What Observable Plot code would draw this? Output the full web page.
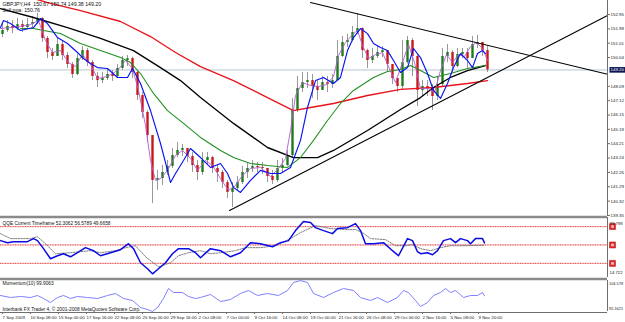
<!DOCTYPE html>
<html><head><meta charset="utf-8">
<script src="https://cdn.jsdelivr.net/npm/d3@7"></script>
<script src="https://cdn.jsdelivr.net/npm/@observablehq/plot@0.6"></script>
<style>
body{margin:0;background:#fff;}
#chart{width:625px;height:322px;position:relative;overflow:hidden;background:#fff;}
#chart svg{display:block;overflow:visible;}
</style></head><body><div id="chart"></div>
<script>
// ---------- data ----------
const titleLines = ["GBPJPY,H4  150.67 150.74 149.38 149.20", "Sell ppa: 150.76"];
const lastPrice = 149.20;

const open = [151.60,151.87,152.14,152.00,152.27,152.07,152.27,152.41,152.68,151.33,
150.38,150.11,150.92,150.18,149.57,148.89,149.97,150.51,149.70,148.76,
148.48,148.62,148.89,148.76,149.30,149.84,149.97,149.03,147.47,146.32,
144.76,141.72,141.85,142.26,142.67,143.41,143.75,143.88,143.34,142.73,
142.26,143.07,143.27,142.53,142.26,141.58,140.91,141.18,141.58,142.26,
142.53,142.67,142.60,142.53,141.99,141.72,142.53,142.73,143.41,146.45,
147.94,148.35,148.48,148.08,147.81,148.35,148.21,148.48,150.11,151.06,
151.19,151.73,152.00,150.51,149.84,150.11,150.38,150.51,149.57,148.62,
148.08,149.70,151.19,150.11,147.81,148.08,147.94,147.40,148.21,150.11,
150.38,149.43,150.24,150.38,149.97,150.92,151.06,150.51];
const close = [151.87,152.14,152.00,152.27,152.07,152.27,152.41,152.68,151.33,150.38,
150.11,150.92,150.18,149.57,148.89,149.97,150.51,149.70,148.76,148.48,
148.62,148.89,148.76,149.30,149.84,149.97,149.03,147.47,146.32,144.76,
141.72,141.85,142.26,142.67,143.41,143.75,143.88,143.34,142.73,142.26,
143.07,143.27,142.53,142.26,141.58,140.91,141.18,141.58,142.26,142.53,
142.67,142.60,142.53,141.99,141.72,142.53,142.73,143.41,146.45,147.94,
148.35,148.48,148.08,147.81,148.35,148.21,148.48,150.11,151.06,151.19,
151.73,152.00,150.51,149.84,150.11,150.38,150.51,149.57,148.62,148.08,
149.70,151.19,150.11,147.81,148.08,147.94,147.40,148.21,150.11,150.38,
149.43,150.24,150.38,149.97,150.92,151.06,150.51,149.20];
const high = [152.41,152.54,152.54,152.68,152.54,152.68,152.81,153.02,152.75,151.46,
150.65,151.33,151.19,150.38,149.70,150.24,150.78,150.65,149.84,149.03,
149.03,149.23,149.16,149.57,150.11,150.18,150.05,149.16,147.67,146.45,
144.76,142.40,142.73,143.07,143.88,144.29,144.15,143.88,143.61,143.07,
143.61,143.61,143.35,142.80,142.40,141.72,141.58,141.99,142.67,142.87,
143.07,142.94,142.94,142.53,142.40,143.07,143.21,143.75,147.27,148.76,
149.03,149.03,148.89,148.48,148.76,148.76,148.89,151.19,151.46,151.60,
152.14,153.02,152.05,150.60,150.65,150.85,150.78,150.51,149.57,148.62,
151.19,151.46,151.33,150.24,148.48,148.48,148.21,148.76,150.65,150.92,
150.51,150.65,150.65,150.65,151.46,151.53,151.06,150.78];
const low = [151.39,151.73,151.66,151.87,151.73,151.94,152.07,152.27,151.06,149.97,
149.84,150.11,149.84,149.30,148.62,148.80,149.84,149.43,148.48,148.01,
148.28,148.48,148.42,148.62,149.16,149.43,148.62,147.13,145.91,144.29,
140.16,141.04,141.38,142.06,142.53,143.27,143.34,142.94,142.26,141.72,
142.06,142.73,142.19,141.58,141.18,140.50,139.89,141.04,141.45,141.85,
142.26,142.26,142.12,141.58,141.45,141.58,142.26,142.67,143.27,146.32,
147.67,147.94,147.27,147.13,147.81,147.67,147.94,148.48,150.05,150.72,
151.10,151.60,149.97,149.30,149.63,149.97,150.04,149.03,148.21,147.67,
147.81,149.60,148.76,146.73,147.40,147.40,146.45,147.13,148.08,149.70,
149.03,149.35,149.97,149.30,149.97,150.65,150.11,149.03];

// moving averages [bar slot, price]
const maRed = [[5.6,154.10],[9.0,153.76],[15.6,153.22],[23.6,152.48],[29.6,151.46],[34.6,150.38],[39.6,149.43],[46.2,148.48],[53.0,147.33],[58.2,146.45],[61.6,146.66],[66.2,146.93],[73.0,147.47],[79.6,147.88],[86.2,148.01],[93.0,148.28],[97.0,148.48]];
const maBlack = [[-0.4,153.35],[6.2,152.75],[13.0,152.07],[19.6,151.33],[26.2,150.51],[31.6,149.36],[35.6,148.48],[39.6,147.33],[46.2,145.58],[53.0,143.95],[58.2,143.27],[63.0,143.27],[66.2,143.75],[73.0,145.10],[79.6,146.52],[83.6,147.33],[86.2,148.01],[89.6,148.69],[93.0,149.16],[96.6,149.50]];
const maGreen = [[3.6,152.00],[6.2,152.00],[8.2,151.87],[11.6,151.66],[15.6,150.99],[19.6,150.51],[23.6,150.04],[25.6,149.70],[27.6,148.96],[30.2,147.61],[33.0,146.45],[36.2,145.58],[39.6,144.63],[43.6,143.75],[46.2,143.27],[49.6,142.87],[53.0,142.73],[57.0,142.60],[59.6,143.27],[62.2,144.43],[65.0,145.78],[67.6,146.93],[70.2,147.81],[74.2,148.69],[77.0,149.09],[79.6,149.23],[81.6,149.50],[83.6,149.16],[86.2,148.69],[89.6,148.96],[93.0,149.30],[96.6,149.50]];
const maBlue = [[-0.4,152.07],[0.2,152.54],[1.6,152.34],[3.6,151.87],[6.2,152.07],[7.6,152.68],[9.0,152.34],[11.0,151.39],[13.0,150.99],[15.0,150.38],[16.2,149.97],[17.6,149.63],[19.0,149.36],[21.0,149.30],[23.0,148.69],[25.0,148.69],[26.0,149.30],[27.6,148.28],[29.6,146.45],[31.6,144.22],[33.0,142.40],[33.6,141.58],[34.6,142.19],[36.2,143.07],[37.6,143.88],[39.6,143.27],[41.6,142.60],[43.6,142.87],[45.0,142.19],[46.2,141.25],[47.6,140.91],[49.6,141.72],[51.6,142.40],[53.6,142.19],[55.6,142.19],[57.6,142.60],[59.6,144.43],[61.0,146.66],[62.6,148.48],[64.2,148.69],[66.2,148.28],[67.6,148.69],[69.0,150.51],[70.2,151.39],[71.6,152.00],[73.0,151.66],[74.2,150.99],[75.6,150.72],[77.0,150.51],[78.2,149.84],[79.6,149.03],[81.0,149.36],[82.2,150.65],[83.6,150.04],[85.0,148.96],[86.2,147.81],[87.6,147.27],[89.0,148.28],[90.2,149.36],[91.6,150.31],[93.0,149.84],[94.0,149.36],[95.0,150.31],[96.0,150.51],[96.6,150.31]];
const maPurple = [[-0.4,152.00],[1.6,152.07],[3.6,152.14],[5.6,152.27],[7.2,152.54],[8.6,151.19],[10.0,150.38],[11.6,150.51],[13.2,149.70],[14.6,149.43],[16.0,150.24],[17.6,149.57],[19.0,148.62],[21.0,148.76],[23.0,149.16],[24.6,149.84],[26.0,149.30],[27.2,147.81],[28.6,145.44],[29.6,143.07],[30.6,141.72],[31.6,141.85],[33.0,142.40],[34.6,143.41],[36.0,143.75],[37.6,143.21],[39.0,142.40],[40.6,143.07],[42.0,142.73],[43.6,141.85],[45.2,141.04],[46.6,141.38],[48.0,142.06],[49.6,142.53],[51.6,142.60],[53.6,141.99],[55.2,142.53],[56.6,143.21],[57.6,145.10],[58.6,147.47],[60.0,148.35],[61.6,148.15],[63.2,148.08],[64.8,148.21],[66.2,148.76],[67.2,150.18],[68.6,151.06],[70.0,151.60],[71.0,151.87],[72.0,150.85],[73.2,149.97],[74.6,150.24],[76.0,150.38],[77.2,149.43],[78.6,148.35],[80.0,149.70],[81.2,150.92],[82.4,149.70],[83.6,147.94],[85.2,147.94],[86.4,147.67],[87.6,149.16],[88.8,150.24],[90.0,149.70],[91.2,150.24],[92.4,150.11],[93.6,150.78],[94.8,151.06],[96.0,150.65],[97.0,149.84]];

// drawn trend lines [bar slot, price]
const trendUpper = [[61.6,153.76],[121,148.91]];
const trendLower = [[45.4,139.69],[121,152.88]];

// QQE panel
const qqeTitle = "QQE Current Timeframe 52.3062 56.5789 49.6658";
const qqeLevels = [70, 50, 30];
const qqeScale = ["79.798", "14.722"];
const qqeFast = [[-0.4,54.7],[1.0,52.5],[2.2,53.6],[5.0,53.6],[6.2,56.9],[7.0,54.7],[8.2,46.0],[9.6,35.1],[11.0,38.3],[12.2,40.5],[13.6,37.2],[15.0,41.6],[16.6,47.1],[18.2,43.8],[19.6,38.3],[21.6,41.6],[23.6,44.9],[25.2,51.4],[26.2,46.0],[27.6,30.7],[29.0,24.2],[30.0,18.7],[31.2,24.2],[32.6,30.7],[34.0,40.5],[35.2,46.0],[37.2,46.0],[38.6,41.6],[39.6,36.2],[41.6,46.0],[43.6,43.8],[45.6,37.2],[47.6,41.6],[49.6,52.5],[51.6,51.4],[54.0,48.1],[55.6,52.5],[57.2,54.7],[58.6,65.6],[60.2,75.4],[61.6,74.3],[62.6,68.8],[64.2,65.6],[66.0,62.3],[67.0,67.8],[69.0,68.8],[70.6,73.2],[71.6,65.6],[72.6,51.4],[74.2,51.4],[76.2,52.5],[78.0,43.8],[79.2,38.3],[81.0,56.9],[82.0,54.7],[83.0,42.7],[83.6,40.5],[85.0,41.6],[86.0,39.4],[87.0,43.8],[88.2,54.7],[89.6,56.9],[90.6,52.5],[91.6,56.9],[93.0,54.7],[93.6,51.4],[94.6,56.9],[96.0,56.9],[96.4,52.3]];
const qqeSlow = [[-0.4,62.3],[1.6,56.9],[5.6,56.9],[7.0,59.0],[8.6,51.4],[10.6,40.5],[13.6,41.6],[17.6,43.8],[19.6,41.6],[22.6,43.8],[24.6,47.1],[26.6,49.2],[28.6,37.2],[31.2,26.3],[33.6,30.7],[35.2,38.3],[37.2,41.6],[39.6,43.8],[41.6,40.5],[43.6,41.6],[46.6,43.8],[48.6,47.1],[51.6,47.1],[54.6,49.2],[57.6,56.9],[59.6,63.4],[62.6,71.0],[65.6,67.8],[68.6,66.7],[70.6,66.7],[72.0,63.4],[73.6,56.9],[76.6,55.8],[78.6,49.2],[80.6,49.2],[82.0,50.3],[83.6,46.0],[85.6,43.8],[87.6,47.1],[89.6,49.2],[92.6,49.2],[96.4,49.7]];

// Momentum panel
const momTitle = "Momentum(10) 99.9063";
const footer = "Interbank FX Trader 4, \u00a9 2001-2008 MetaQuotes Software Corp.";
const momScale = ["104.578", "95.1621"];
const momentum = [[-0.4,100.02],[1.6,99.41],[3.6,99.72],[5.6,99.41],[7.0,100.02],[8.2,99.11],[9.6,97.89],[11.0,99.41],[12.2,100.02],[13.6,99.11],[15.0,99.72],[17.0,99.41],[19.0,99.11],[21.0,100.02],[22.6,100.63],[24.2,99.11],[26.0,98.50],[27.6,96.37],[29.0,95.77],[30.0,95.17],[31.0,96.37],[32.2,99.11],[33.2,102.15],[34.2,100.93],[36.0,100.93],[37.2,99.72],[38.6,99.11],[39.6,99.41],[41.6,100.33],[43.6,98.20],[45.6,98.81],[47.6,100.63],[49.2,101.54],[51.0,100.02],[53.0,100.63],[55.2,100.02],[57.0,101.54],[58.2,103.97],[59.6,104.55],[61.0,103.97],[62.2,100.63],[64.2,99.41],[66.2,100.93],[68.2,102.15],[70.2,101.54],[71.6,99.41],[73.6,98.50],[75.0,99.41],[77.0,97.89],[79.0,99.41],[80.2,101.54],[81.2,100.93],[82.6,98.50],[83.6,96.68],[85.0,97.89],[86.2,100.02],[87.6,100.93],[88.6,102.15],[89.6,100.93],[90.6,101.54],[92.2,99.41],[93.6,100.02],[95.0,100.02],[96.0,100.93],[96.4,99.91]];

// axes
const priceTicks = [152.95,151.98,151.01,150.04,148.09,147.12,146.15,145.18,144.21,143.24,142.26,141.29,140.32,139.35];
const timeLabels = ["7 Sep 2009","10 Sep 08:00","15 Sep 00:00","17 Sep 16:00","22 Sep 08:00","25 Sep 00:00","29 Sep 16:00","2 Oct 08:00","7 Oct 00:00","9 Oct 16:00","14 Oct 08:00","19 Oct 00:00","21 Oct 16:00","26 Oct 08:00","29 Oct 00:00","2 Nov 16:00","5 Nov 08:00","9 Nov 20:00"];
const timeSlots = [-0.2,5.4,11.0,16.6,22.2,27.8,33.4,39.0,44.6,50.2,55.8,61.4,67.0,72.6,78.2,83.8,89.4,95.0];

// ---------- drawing ----------
const W = 625, MR = 18;
const xDomain = [-0.4, 121];
const FONT = "'Liberation Sans', Arial, sans-serif";
const baseStyle = {fontFamily: FONT, background: "transparent", overflow: "visible", color: "#000"};
const idx = close.map((_, i) => i);
const X = d => d[0], Y = d => d[1];
const chart = document.getElementById("chart");

const main = Plot.plot({
  width: W, height: 216, marginLeft: 0, marginRight: MR, marginTop: 0, marginBottom: 0,
  x: {domain: xDomain, axis: null},
  y: {domain: [139.28, 153.90], axis: null},
  color: {type: "identity"},
  style: baseStyle,
  marks: [
    Plot.ruleY([lastPrice], {stroke: "#b4c6d0", strokeWidth: 1}),
    Plot.ruleX(idx, {x: i => i, y1: i => low[i], y2: i => high[i], stroke: "#8c8c8c", strokeWidth: 0.9}),
    Plot.ruleX(idx, {x: i => i, y1: i => open[i], y2: i => close[i], stroke: i => close[i] >= open[i] ? "#1d7a1d" : "#c81818", strokeWidth: 2.4}),
    Plot.line(maRed, {x: X, y: Y, stroke: "#e8141b", strokeWidth: 1.35, clip: true}),
    Plot.line(maBlack, {x: X, y: Y, stroke: "#000", strokeWidth: 1.35, clip: true}),
    Plot.line(maGreen, {x: X, y: Y, stroke: "#1f8f1f", strokeWidth: 1.05, clip: true}),
    Plot.line(maPurple, {x: X, y: Y, stroke: "#b45ad2", strokeWidth: 0.9, clip: true}),
    Plot.line(maBlue, {x: X, y: Y, stroke: "#0a14f0", strokeWidth: 1.15, clip: true}),
    Plot.line(trendUpper, {x: X, y: Y, stroke: "#000", strokeWidth: 1.1}),
    Plot.line(trendLower, {x: X, y: Y, stroke: "#000", strokeWidth: 1.1}),
    Plot.ruleX([xDomain[1]], {stroke: "#6e6e6e", strokeWidth: 1}),
    Plot.axisY(priceTicks, {anchor: "right", tickSize: 2, tickPadding: 1, tickFormat: d => d.toFixed(2), fontSize: 4.4, stroke: "#6e6e6e", fill: "#222"}),
    Plot.text([lastPrice], {y: d => d, text: d => d.toFixed(2), frameAnchor: "right", dx: 3, textAnchor: "start", fill: "#fff", fontSize: 4.4}),
    Plot.text([titleLines.join("\n")], {frameAnchor: "top-left", dx: 2, dy: 1, lineAnchor: "top", lineHeight: 1.15, fontSize: 5.2, fill: "#111"})
  ]
});
chart.appendChild(main);

const qqe = Plot.plot({
  width: W, height: 61, marginLeft: 0, marginRight: MR, marginTop: 1, marginBottom: 0,
  x: {domain: xDomain, axis: null},
  y: {domain: [14.722, 79.798], axis: null},
  style: baseStyle,
  marks: [
    Plot.ruleY([79.798], {stroke: "#8a8a8a", strokeWidth: 2.5, dy: -0.5}),
    Plot.ruleY(qqeLevels, {stroke: "#f5b3b3", strokeWidth: 1.3}),
    Plot.ruleY(qqeLevels, {stroke: "#e03a3a", strokeWidth: 0.8, strokeDasharray: "1,1.5"}),
    Plot.line(qqeSlow, {x: X, y: Y, stroke: "#707070", strokeWidth: 0.9, strokeDasharray: "1.5,1.2"}),
    Plot.line(qqeFast, {x: X, y: Y, stroke: "#0a0ae6", strokeWidth: 1.5}),
    Plot.ruleX([xDomain[1]], {stroke: "#6e6e6e", strokeWidth: 1}),
    Plot.dot(qqeLevels, {y: d => d, frameAnchor: "right", dx: 5, symbol: "square", r: 3.4, fill: "#e02828", stroke: "#b01010", strokeWidth: 0.5}),
    Plot.dot(qqeLevels, {y: d => d, frameAnchor: "right", dx: 5, symbol: "square", r: 1.5, fill: "#f7c0c0"}),
    Plot.text([qqeTitle], {frameAnchor: "top-left", dx: 2, dy: 4, lineAnchor: "top", fontSize: 4.8, fill: "#111"}),
    Plot.text([qqeScale[0]], {frameAnchor: "top-right", dx: 2, dy: 4, textAnchor: "start", fontSize: 4.3, fill: "#222"}),
    Plot.text([qqeScale[1]], {frameAnchor: "bottom-right", dx: 2, dy: -4, textAnchor: "start", fontSize: 4.3, fill: "#222"})
  ]
});
chart.appendChild(qqe);

const labelBySlot = new Map(timeSlots.map((s, i) => [s, timeLabels[i]]));
const mom = Plot.plot({
  width: W, height: 45, marginLeft: 0, marginRight: MR, marginTop: 3, marginBottom: 11,
  x: {domain: xDomain, axis: null},
  y: {domain: [95.1621, 104.578], axis: null},
  style: baseStyle,
  marks: [
    Plot.ruleY([104.578], {stroke: "#8a8a8a", strokeWidth: 2.5, dy: -1.5}),
    Plot.line(momentum, {x: X, y: Y, stroke: "#6f72ff", strokeWidth: 0.9}),
    Plot.ruleY([95.1621], {stroke: "#6e6e6e", strokeWidth: 1, dy: 1}),
    Plot.ruleX([xDomain[1]], {stroke: "#6e6e6e", strokeWidth: 1, y1: 95.1621, y2: 104.578}),
    Plot.axisX(timeSlots, {anchor: "bottom", tickSize: 2, tickPadding: 1.5, tickFormat: d => labelBySlot.get(d), textAnchor: "start", dx: 1, dy: 1, fontSize: 4.4, stroke: "#6e6e6e", fill: "#222"}),
    Plot.text([momTitle], {frameAnchor: "top-left", dx: 2, dy: 1.5, lineAnchor: "top", fontSize: 4.8, fill: "#111"}),
    Plot.text([footer], {frameAnchor: "bottom-left", dx: 2, dy: -1, lineAnchor: "bottom", fontSize: 4.8, fill: "#111"}),
    Plot.text([momScale[0]], {frameAnchor: "top-right", dx: 1.5, dy: 2, textAnchor: "start", fontSize: 3.9, fill: "#222"}),
    Plot.text([momScale[1]], {frameAnchor: "bottom-right", dx: 1.5, dy: -1.5, textAnchor: "start", fontSize: 3.9, fill: "#222"})
  ]
});
chart.appendChild(mom);

// dark box behind the current-price label
d3.select(main).selectAll("text").filter(function () {
  if (this.textContent !== lastPrice.toFixed(2)) return false;
  const g = this.closest("g");
  return this.getAttribute("fill") === "#fff" || (g && g.getAttribute("fill") === "#fff");
}).each(function () {
  const bb = this.getBBox();
  const r = document.createElementNS("http://www.w3.org/2000/svg", "rect");
  r.setAttribute("x", bb.x - 1);
  r.setAttribute("y", bb.y - 0.3);
  r.setAttribute("width", bb.width + 2.5);
  r.setAttribute("height", bb.height + 0.6);
  r.setAttribute("fill", "#0d1552");
  const tr = this.getAttribute("transform");
  if (tr) r.setAttribute("transform", tr);
  this.parentNode.insertBefore(r, this);
});
</script></body></html>
